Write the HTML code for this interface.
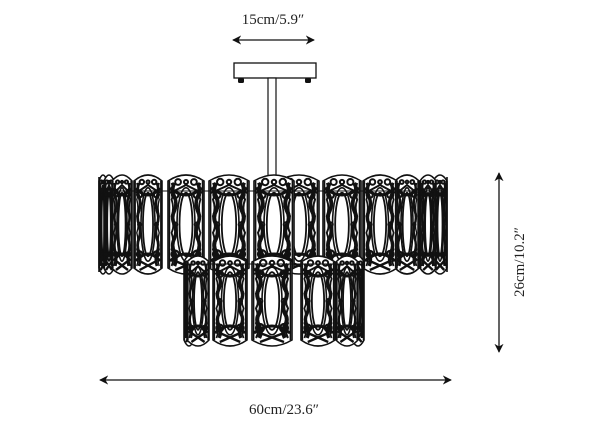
<!DOCTYPE html>
<html><head><meta charset="utf-8">
<style>
html,body{margin:0;padding:0;background:#fff;width:600px;height:426px;overflow:hidden}
svg{display:block}
text{font-family:"Liberation Serif",serif;fill:#222}
</style></head>
<body>
<svg id="s" width="600" height="426" viewBox="0 0 600 426" xmlns="http://www.w3.org/2000/svg">
<defs>
<marker id="a" viewBox="0 0 10 10" refX="9" refY="5" markerWidth="7" markerHeight="7" orient="auto-start-reverse"><path d="M0,0 L10,5 L0,10 L3,5 z" fill="#111"/></marker>
</defs>
<line x1="233" y1="40" x2="314" y2="40" stroke="#111" stroke-width="1.3" marker-start="url(#a)" marker-end="url(#a)"/>
<text x="273" y="24" font-size="15" text-anchor="middle">15cm/5.9″</text>
<line x1="100" y1="380" x2="451" y2="380" stroke="#111" stroke-width="1.3" marker-start="url(#a)" marker-end="url(#a)"/>
<text x="284" y="414" font-size="15" text-anchor="middle">60cm/23.6″</text>
<line x1="499" y1="173" x2="499" y2="352" stroke="#111" stroke-width="1.3" marker-start="url(#a)" marker-end="url(#a)"/>
<text x="0" y="0" font-size="15" text-anchor="middle" transform="translate(524,262) rotate(-90)">26cm/10.2″</text>
<rect x="234" y="63" width="82" height="15" fill="#fff" stroke="#111" stroke-width="1.3"/>
<rect x="238" y="78" width="6" height="5" rx="1.5" fill="#111"/>
<rect x="305" y="78" width="6" height="5" rx="1.5" fill="#111"/>
<rect x="268" y="78" width="8" height="98" fill="#fff" stroke="#111" stroke-width="1.2"/>
<g id="g" fill="none" stroke="#111"></g>
</svg>
<script>
var g=document.getElementById('g');var ns='http://www.w3.org/2000/svg';
function el(t,a){var e=document.createElementNS(ns,t);for(var k in a)e.setAttribute(k,a[k]);g.appendChild(e);return e;}
function wave(cx,s,w,y0,h,a,b,sw,n){
  var x1=cx+s*w*a,x2=cx+s*w*b;var d='M'+x1+','+(y0+8);
  for(var i=1;i<=n;i++){var yy=y0+8+i*(h-16)/n;d+=' Q'+(i%2?x2:x1-s*w*0.08)+','+(yy-(h-16)/(2*n))+' '+x1+','+yy;}
  el('path',{d:d,'stroke-width':sw});
}
function panel(cx,w,y0,y1){
 var h=y1-y0,l=cx-w/2,r=cx+w/2;
 el('path',{d:'M'+l+','+(y0+6)+' Q'+cx+','+(y0-6)+' '+r+','+(y0+6)+' L'+r+','+(y1-6)+' Q'+cx+','+(y1+6)+' '+l+','+(y1-6)+' Z',fill:'#fff','stroke-width':1.6});
 var ew=w*0.18,eh=h*0.32,ey=y0+h*0.5;
 el('ellipse',{cx:cx,cy:ey,rx:ew,ry:eh,'stroke-width':1.8});
 el('ellipse',{cx:cx,cy:ey,rx:ew+w*0.07,ry:eh+5,'stroke-width':1.6});
 var sw=Math.max(2.2,w*0.1);
 for(var s=-1;s<=1;s+=2){
  wave(cx,s,w,y0,h,0.32,0.42,sw,6);
  wave(cx,s,w,y0,h,0.40,0.30,Math.max(1.4,w*0.05),5);
  el('line',{x1:cx+s*w*0.46,y1:y0+6,x2:cx+s*w*0.46,y2:y1-6,'stroke-width':1.6});
 }
 var cr=Math.max(1.6,w*0.08);
 for(var k=-1;k<=1;k++){el('circle',{cx:cx+k*w*0.22,cy:y0+7,r:k?cr:cr*0.7,'stroke-width':2});}
 el('path',{d:'M'+(l+2)+','+(y0+13)+' Q'+cx+','+(y0+27)+' '+(r-2)+','+(y0+13),'stroke-width':3});
 el('path',{d:'M'+(l+2)+','+(y0+18)+' L'+(cx)+','+(y0+10)+' L'+(r-2)+','+(y0+18),'stroke-width':2});
 el('path',{d:'M'+(l+2)+','+(y1-13)+' Q'+cx+','+(y1-27)+' '+(r-2)+','+(y1-13),'stroke-width':3});
 el('path',{d:'M'+(cx-w*0.3)+','+(y1-4)+' L'+(cx+w*0.3)+','+(y1-13)+' M'+(cx+w*0.3)+','+(y1-4)+' L'+(cx-w*0.3)+','+(y1-13),'stroke-width':2.4});
 for(var s2=-1;s2<=1;s2+=2){
  el('circle',{cx:cx+s2*w*0.3,cy:y0+h*0.8,r:w*0.1,'stroke-width':2.2});
  el('circle',{cx:cx+s2*w*0.3,cy:y0+h*0.2,r:w*0.09,'stroke-width':2.2});
  el('circle',{cx:cx+s2*w*0.3,cy:y0+h*0.5,r:w*0.06,'stroke-width':1.8});
 }
}
var up=[[103,8],[440,14],[109,10],[428,16],[122,20],[407,24],[148,28],[380,34],[186,36],[342,38],[229,40],[299,40],[274,40]];
up.forEach(function(p){panel(p[0],p[1],175,274);});
el('line',{x1:99,y1:177,x2:99,y2:272,'stroke-width':1.6});
el('line',{x1:99,y1:191,x2:447,y2:191,'stroke-width':1});
el('line',{x1:447,y1:177,x2:447,y2:272,'stroke-width':1.6});
var lo=[[189,10],[358,12],[198,22],[347,22],[230,34],[318,34],[272,40]];
lo.forEach(function(p){panel(p[0],p[1],256,346);});
el('line',{x1:186,y1:264,x2:362,y2:264,'stroke-width':1});
</script>
</body></html>
